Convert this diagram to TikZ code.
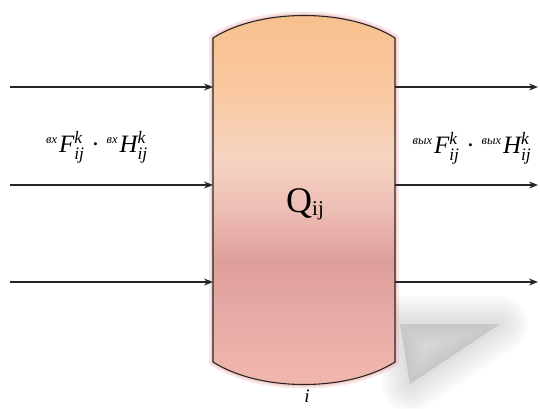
\RequirePackage{fix-cm}
\documentclass[tikz,border=0pt]{standalone}
\usepackage{fontspec}
\usepackage{amsmath}
\newfontfamily\cyr{Liberation Serif}
\usetikzlibrary{arrows.meta}
\definecolor{cA}{HTML}{F8BF8C}
\definecolor{cB}{HTML}{F9C9A2}
\definecolor{cC}{HTML}{F6D5C2}
\definecolor{cD}{HTML}{EDBDB4}
\definecolor{cE}{HTML}{DE9E9A}
\definecolor{cF}{HTML}{E6A8A4}
\definecolor{cG}{HTML}{F2B8AE}
\definecolor{glow}{HTML}{E8A0A0}
\pgfdeclareverticalshading{vessel}{100bp}{color(0bp)=(cG); color(25bp)=(cG); color(36.5bp)=(cF); color(41.9bp)=(cE); color(48.6bp)=(cD); color(55.4bp)=(cC); color(63.5bp)=(cB); color(75bp)=(cA); color(100bp)=(cA)}
\tikzset{
  flow/.style={draw=black!85, line width=1.2pt, -{Stealth[length=9pt,width=7pt]}},
  lbl/.style={inner sep=0pt, font=\fontsize{25}{30}\selectfont}
}
\newcommand{\tv}[1]{\text{\cyr\itshape #1}}
\newcommand{\cyrsup}[1]{{}^{\scriptscriptstyle\tv{#1}}\mkern1mu}
\newcommand{\dotsep}{\mkern1mu\mathbin{\text{\cyr ·}}\mkern1mu}
\begin{document}
\begin{tikzpicture}[x=1pt,y=-1pt]
\useasboundingbox[fill=white] (0,0) rectangle (540,408);
% shadow
\foreach \w in {56,48,40,32,24,16,8}
  \filldraw[black!50, opacity=0.035, line width=\w pt, line join=round] (400,324) -- (500,324) -- (410,384) -- cycle;
% vessel outline coordinates
\coordinate (vtl) at (213,38);
\coordinate (vtr) at (395,38);
\coordinate (vbr) at (395,362);
\coordinate (vbl) at (213,362);
\def\vesselpath{(vtl) .. controls (260,8) and (348,8) .. (vtr) -- (vbr) .. controls (348,392) and (260,392) .. (vbl) -- cycle}
\draw[glow, opacity=0.25, line width=8pt, line join=round] \vesselpath;
\draw[glow, opacity=0.35, line width=4pt, line join=round] \vesselpath;
\shade[shading=vessel] \vesselpath;
\draw[black!85, line width=1.1pt] \vesselpath;
% connection points
\coordinate (l1) at (10,87);
\coordinate (l2) at (10,185);
\coordinate (l3) at (10,282);
\coordinate (vl1) at (213,87);
\coordinate (vl2) at (213,185);
\coordinate (vl3) at (213,282);
\coordinate (vr1) at (395,87);
\coordinate (vr2) at (395,185);
\coordinate (vr3) at (395,282);
\coordinate (r1) at (538,87);
\coordinate (r2) at (538,185);
\coordinate (r3) at (538,282);
\draw[flow] (l1) -- (vl1);
\draw[flow] (l2) -- (vl2);
\draw[flow] (l3) -- (vl3);
\draw[flow] (vr1) -- (r1);
\draw[flow] (vr2) -- (r2);
\draw[flow] (vr3) -- (r3);
% labels
\node[lbl] (inlabel) at (97,147) {$\cyrsup{вх}\tv{F}^{\tv{k}}_{\tv{ij}}\dotsep\cyrsup{вх}\tv{H}^{\tv{k}}_{\tv{ij}}$};
\node[lbl] (outlabel) at (472,148) {$\cyrsup{вых}\tv{F}^{\tv{k}}_{\tv{ij}}\dotsep\cyrsup{вых}\tv{H}^{\tv{k}}_{\tv{ij}}$};
\node[inner sep=0pt] (q) at (305,204) {\cyr\fontsize{36}{40}\selectfont Q\raisebox{-3pt}{\fontsize{21}{24}\selectfont ij}};
\node[inner sep=0pt, anchor=north] (ilabel) at (307,390) {\cyr\itshape\fontsize{19}{22}\selectfont i};
\end{tikzpicture}
\end{document}
